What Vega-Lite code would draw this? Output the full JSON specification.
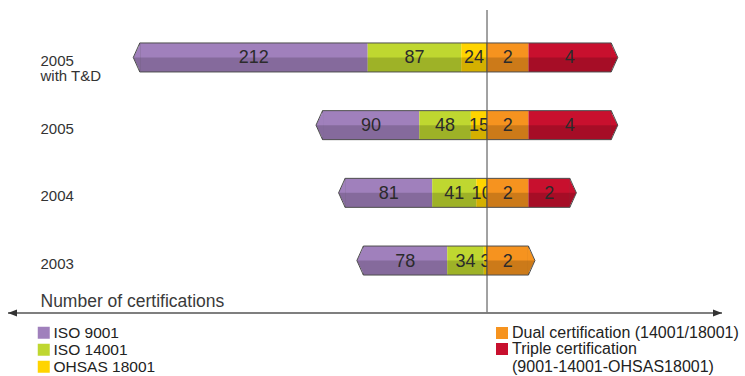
{
  "$schema": "https://vega.github.io/schema/vega-lite/v6.json",
  "width": 714,
  "height": 303,
  "autosize": {"type": "none"},
  "padding": {"left": 8, "top": 10, "right": 23, "bottom": 63},
  "config": {"view": {"stroke": null}, "font": "Liberation Sans"},
  "datasets": {
    "left": [
      {"year": "2005 with T&D", "cert": "ISO 9001", "k": 3, "n": 212},
      {"year": "2005 with T&D", "cert": "ISO 14001", "k": 2, "n": 87},
      {"year": "2005 with T&D", "cert": "OHSAS 18001", "k": 1, "n": 24},
      {"year": "2005", "cert": "ISO 9001", "k": 3, "n": 90},
      {"year": "2005", "cert": "ISO 14001", "k": 2, "n": 48},
      {"year": "2005", "cert": "OHSAS 18001", "k": 1, "n": 15},
      {"year": "2004", "cert": "ISO 9001", "k": 3, "n": 81},
      {"year": "2004", "cert": "ISO 14001", "k": 2, "n": 41},
      {"year": "2004", "cert": "OHSAS 18001", "k": 1, "n": 10},
      {"year": "2003", "cert": "ISO 9001", "k": 3, "n": 78},
      {"year": "2003", "cert": "ISO 14001", "k": 2, "n": 34},
      {"year": "2003", "cert": "OHSAS 18001", "k": 1, "n": 3}
    ],
    "right": [
      {"year": "2005 with T&D", "cert": "Dual certification (14001/18001)", "k": 1, "n": 2},
      {"year": "2005 with T&D", "cert": "Triple certification (9001-14001-OHSAS18001)", "k": 2, "n": 4},
      {"year": "2005", "cert": "Dual certification (14001/18001)", "k": 1, "n": 2},
      {"year": "2005", "cert": "Triple certification (9001-14001-OHSAS18001)", "k": 2, "n": 4},
      {"year": "2004", "cert": "Dual certification (14001/18001)", "k": 1, "n": 2},
      {"year": "2004", "cert": "Triple certification (9001-14001-OHSAS18001)", "k": 2, "n": 2},
      {"year": "2003", "cert": "Dual certification (14001/18001)", "k": 1, "n": 2}
    ]
  },
  "resolve": {"scale": {"x": "independent", "y": "independent", "color": "independent"}},
  "layer": [
    {
      "data": {"values": [{}]},
      "layer": [
        {"mark": {"type": "rule", "color": "#555555", "strokeWidth": 1.3},
         "encoding": {"y": {"datum": 0, "type": "quantitative", "scale": {"domain": [0, 1]}, "axis": null}}},
        {"mark": {"type": "rule", "color": "#7a7a7a", "strokeWidth": 1.4},
         "encoding": {"x": {"datum": 0, "type": "quantitative", "scale": {"domain": [-218.6, 445.6], "reverse": true, "nice": false, "zero": false},
           "axis": {"orient": "bottom", "domain": false, "ticks": false, "labels": false, "grid": false, "title": "Number of certifications", "titleAnchor": "start", "titleAlign": "left", "titleX": 32, "titleY": -7, "titleBaseline": "alphabetic", "titleFontSize": 17.5, "titleFontWeight": "normal", "titleColor": "#3a3a3a", "titleFont": "Liberation Sans"}}}},
        {"mark": {"type": "point", "shape": "M0,0L1,-0.39L1,0.39Z", "size": 324, "filled": true, "color": "#333333", "opacity": 1},
         "encoding": {"x": {"datum": 445.6, "type": "quantitative"}, "y": {"datum": 0, "type": "quantitative"}}},
        {"mark": {"type": "point", "shape": "M0,0L-1,-0.39L-1,0.39Z", "size": 324, "filled": true, "color": "#333333", "opacity": 1},
         "encoding": {"x": {"datum": -218.6, "type": "quantitative"}, "y": {"datum": 0, "type": "quantitative"}}}
      ]
    },
    {
      "data": {"name": "left"},
      "transform": [
        {"stack": "n", "groupby": ["year"], "sort": [{"field": "k", "order": "ascending"}], "as": ["x0", "x1"]},
        {"calculate": "(datum.x0 + datum.x1) / 2", "as": "xm"},
        {"joinaggregate": [{"op": "max", "field": "x1", "as": "tot"}], "groupby": ["year"]}
      ],
      "encoding": {
        "y": {"field": "year", "type": "nominal", "sort": ["2005 with T&D", "2005", "2004", "2003"],
          "scale": {"type": "point", "padding": 0.738, "align": 0.475},
          "axis": {"orient": "left", "title": null, "domain": false, "ticks": false, "grid": false, "labelAlign": "left", "labelPadding": -32, "labelFontSize": 15, "labelColor": "#333333", "labelFont": "Liberation Sans", "labelOffset": 3, "labelLineHeight": 15, "labelExpr": "datum.value == '2005 with T&D' ? ['2005', 'with T&D'] : datum.label"}},
        "color": {"field": "cert", "type": "nominal", "scale": {"domain": ["ISO 9001", "ISO 14001", "OHSAS 18001"], "range": ["#A080BC", "#BFD730", "#FFD400"]},
          "legend": {"orient": "none", "legendX": 28, "legendY": 315, "title": null, "direction": "vertical", "symbolType": "square", "symbolSize": 144, "symbolStrokeWidth": 0, "symbolOpacity": 1, "labelFontSize": 15.5, "labelFont": "Liberation Sans", "labelColor": "#222222", "rowPadding": -1, "labelOffset": 2, "padding": 0, "labelLimit": 400}}
      },
      "layer": [
        {"mark": {"type": "bar", "height": 29},
         "encoding": {
           "x": {"field": "x0", "type": "quantitative", "scale": {"domain": [-218.6, 445.6], "reverse": true, "nice": false, "zero": false}, "axis": null},
           "x2": {"field": "x1"}}},
        {"mark": {"type": "bar", "height": 14.5, "yOffset": 7.25, "opacity": 0.17},
         "encoding": {
           "x": {"field": "x0", "type": "quantitative", "scale": {"domain": [-218.6, 445.6], "reverse": true, "nice": false, "zero": false}, "axis": null},
           "x2": {"field": "x1"}, "color": {"value": "#000000"}}},
        {"transform": [{"filter": "datum.x1 == datum.tot"}],
         "mark": {"type": "bar", "height": 29, "fillOpacity": 0, "stroke": "#4d4d4d", "strokeWidth": 1},
         "encoding": {
           "x": {"field": "x1", "type": "quantitative", "scale": {"domain": [-218.6, 445.6], "reverse": true, "nice": false, "zero": false}, "axis": null},
           "x2": {"datum": 0}, "color": {"value": "#000000"}}},
        {"transform": [{"filter": "datum.x1 == datum.tot"}],
         "mark": {"type": "point", "filled": true, "opacity": 1, "shape": "M0.05,-1L-0.45,0L0.05,1Z", "size": 841},
         "encoding": {
           "x": {"field": "x1", "type": "quantitative", "scale": {"domain": [-218.6, 445.6], "reverse": true, "nice": false, "zero": false}, "axis": null}}},
        {"transform": [{"filter": "datum.x1 == datum.tot"}],
         "mark": {"type": "point", "filled": true, "opacity": 0.17, "shape": "M0.05,0L-0.45,0L0.05,1Z", "size": 841},
         "encoding": {
           "x": {"field": "x1", "type": "quantitative", "scale": {"domain": [-218.6, 445.6], "reverse": true, "nice": false, "zero": false}, "axis": null},
           "color": {"value": "#000000"}}},
        {"transform": [{"filter": "datum.x1 == datum.tot"}],
         "mark": {"type": "point", "filled": false, "opacity": 1, "shape": "M0,-1L-0.45,0L0,1", "size": 841, "stroke": "#4d4d4d", "strokeWidth": 1},
         "encoding": {
           "x": {"field": "x1", "type": "quantitative", "scale": {"domain": [-218.6, 445.6], "reverse": true, "nice": false, "zero": false}, "axis": null},
           "color": {"value": "#4d4d4d"}}},
        {"mark": {"type": "text", "fontSize": 18, "font": "Liberation Sans", "baseline": "middle", "align": "center", "dy": 1},
         "encoding": {
           "x": {"field": "xm", "type": "quantitative", "scale": {"domain": [-218.6, 445.6], "reverse": true, "nice": false, "zero": false}, "axis": null},
           "text": {"field": "n", "type": "quantitative"}, "color": {"value": "#2b2b2b"}}}
      ]
    },
    {
      "data": {"name": "right"},
      "transform": [
        {"stack": "n", "groupby": ["year"], "sort": [{"field": "k", "order": "ascending"}], "as": ["x0", "x1"]},
        {"calculate": "(datum.x0 + datum.x1) / 2", "as": "xm"},
        {"joinaggregate": [{"op": "max", "field": "x1", "as": "tot"}], "groupby": ["year"]}
      ],
      "encoding": {
        "y": {"field": "year", "type": "nominal", "sort": ["2005 with T&D", "2005", "2004", "2003"],
          "scale": {"type": "point", "padding": 0.738, "align": 0.475}, "axis": null},
        "color": {"field": "cert", "type": "nominal", "scale": {"domain": ["Dual certification (14001/18001)", "Triple certification (9001-14001-OHSAS18001)"], "range": ["#F6931F", "#C8102E"]},
          "legend": {"orient": "none", "legendX": 486, "legendY": 315, "title": null, "direction": "vertical", "symbolType": "square", "symbolSize": 144, "symbolStrokeWidth": 0, "symbolOpacity": 1, "labelFontSize": 16, "labelFont": "Liberation Sans", "labelColor": "#222222", "rowPadding": -1.5, "labelOffset": 2, "padding": 0, "labelLimit": 400, "labelLineHeight": 17,
            "labelExpr": "indexof(datum.label, 'Triple') == 0 ? ['Triple certification', '(9001-14001-OHSAS18001)'] : datum.label"}}
      },
      "layer": [
        {"mark": {"type": "bar", "height": 29},
         "encoding": {
           "x": {"field": "x0", "type": "quantitative", "scale": {"domain": [-23.14, 11.35], "nice": false, "zero": false}, "axis": null},
           "x2": {"field": "x1"}}},
        {"mark": {"type": "bar", "height": 14.5, "yOffset": 7.25, "opacity": 0.17},
         "encoding": {
           "x": {"field": "x0", "type": "quantitative", "scale": {"domain": [-23.14, 11.35], "nice": false, "zero": false}, "axis": null},
           "x2": {"field": "x1"}, "color": {"value": "#000000"}}},
        {"transform": [{"filter": "datum.x1 == datum.tot"}],
         "mark": {"type": "bar", "height": 29, "fillOpacity": 0, "stroke": "#4d4d4d", "strokeWidth": 1},
         "encoding": {
           "x": {"field": "x1", "type": "quantitative", "scale": {"domain": [-23.14, 11.35], "nice": false, "zero": false}, "axis": null},
           "x2": {"datum": 0}, "color": {"value": "#000000"}}},
        {"transform": [{"filter": "datum.x1 == datum.tot"}],
         "mark": {"type": "point", "filled": true, "opacity": 1, "shape": "M-0.05,-1L0.45,0L-0.05,1Z", "size": 841},
         "encoding": {
           "x": {"field": "x1", "type": "quantitative", "scale": {"domain": [-23.14, 11.35], "nice": false, "zero": false}, "axis": null}}},
        {"transform": [{"filter": "datum.x1 == datum.tot"}],
         "mark": {"type": "point", "filled": true, "opacity": 0.17, "shape": "M-0.05,0L0.45,0L-0.05,1Z", "size": 841},
         "encoding": {
           "x": {"field": "x1", "type": "quantitative", "scale": {"domain": [-23.14, 11.35], "nice": false, "zero": false}, "axis": null},
           "color": {"value": "#000000"}}},
        {"transform": [{"filter": "datum.x1 == datum.tot"}],
         "mark": {"type": "point", "filled": false, "opacity": 1, "shape": "M0,-1L0.45,0L0,1", "size": 841, "stroke": "#4d4d4d", "strokeWidth": 1},
         "encoding": {
           "x": {"field": "x1", "type": "quantitative", "scale": {"domain": [-23.14, 11.35], "nice": false, "zero": false}, "axis": null},
           "color": {"value": "#4d4d4d"}}},
        {"mark": {"type": "text", "fontSize": 18, "font": "Liberation Sans", "baseline": "middle", "align": "center", "dy": 1},
         "encoding": {
           "x": {"field": "xm", "type": "quantitative", "scale": {"domain": [-23.14, 11.35], "nice": false, "zero": false}, "axis": null},
           "text": {"field": "n", "type": "quantitative"}, "color": {"value": "#2b2b2b"}}}
      ]
    }
  ]
}
